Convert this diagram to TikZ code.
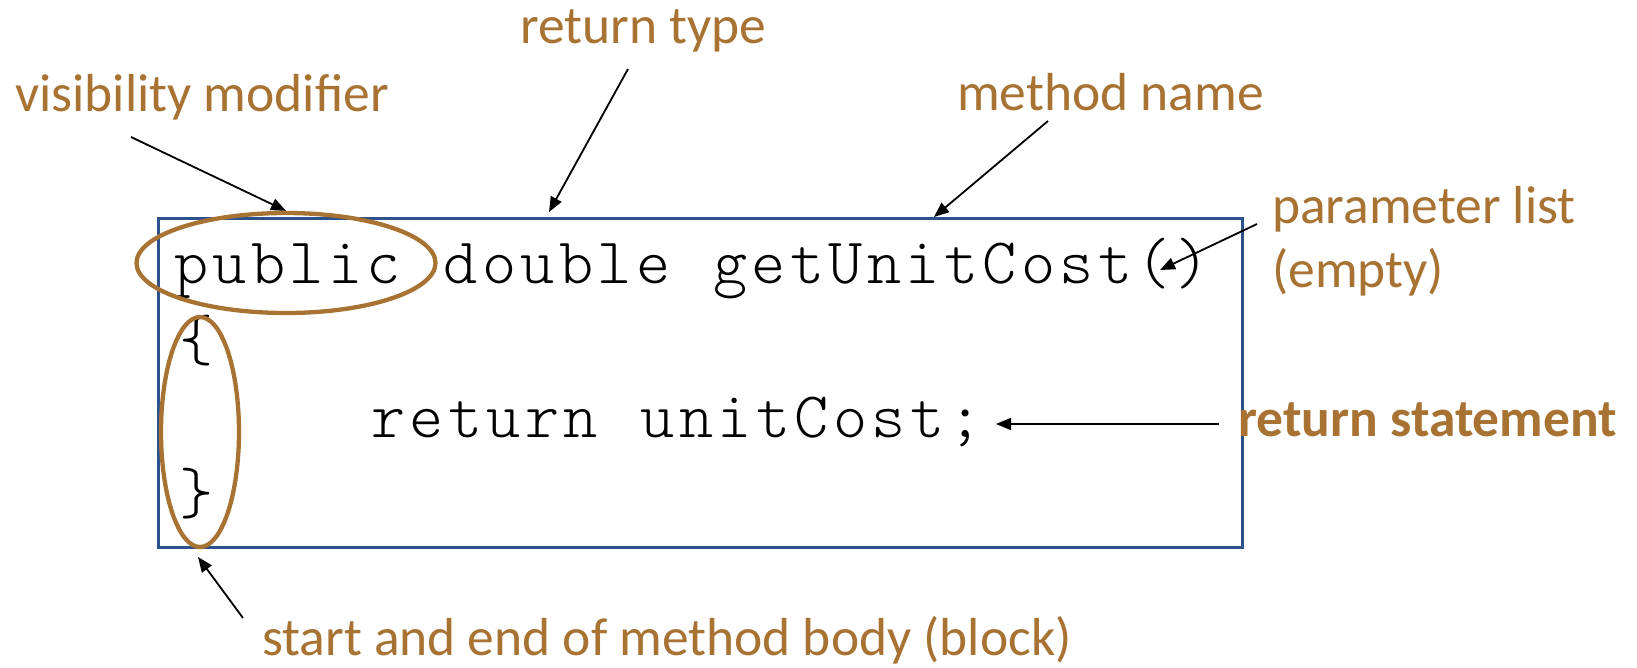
\documentclass[tikz,border=0pt]{standalone}
\usepackage{fontspec}
\setmainfont{Carlito}
\newfontfamily\codefont{lmmonolt10-regular.otf}
\usetikzlibrary{arrows.meta,shapes.geometric}
\definecolor{lblbrown}{RGB}{167,114,50}
\definecolor{boxblue}{RGB}{44,82,140}
% fixed-pitch cells, as in the reference
\newcommand\mchar[1]{\makebox[38.5pt][c]{#1}}
\def\mwordend{\mwordend}
\def\mword#1{\mwordi#1\mwordend}
\def\mwordi#1{\ifx#1\mwordend\else\mchar{#1}\expandafter\mwordi\fi}
\tikzset{
  lbl/.style={inner sep=0pt, anchor=base west, text=lblbrown, font=\fontsize{53.5}{60}\selectfont},
  codetxt/.style={inner sep=0pt, anchor=base west, font=\codefont\fontsize{65}{72}\selectfont},
  ring/.style={ellipse, draw=lblbrown, line width=4.3pt, inner sep=0pt},
  pointer/.style={draw=black, line width=1.8pt, -{Triangle[length=15pt,width=12pt]}},
}
\begin{document}
\begin{tikzpicture}[x=1pt,y=-1pt]
\useasboundingbox[fill=white] (0,0) rectangle (1637,667);
% code box
\node[draw=boxblue, line width=3pt, minimum width=1084pt, minimum height=329pt, inner sep=0pt] (box) at (700,382.5) {};
% code
\node[codetxt] (l1) at (172,283) {\mword{public}\mchar{}\mword{double}\mchar{}\mword{getUnitCost()}};
\node[codetxt] (ob) at (177,360) {\mchar{\{}};
\node[codetxt] (l3) at (369,437) {\mword{return}\mchar{}\mword{unitCost;}};
\node[codetxt] (cb) at (177,513) {\mchar{\}}};
% rings
\node[ring, minimum width=299pt, minimum height=100pt] (ell1) at (286,263) {};
\node[ring, minimum width=78pt, minimum height=230pt] (ell2) at (200,432) {};
% labels
\node[lbl] (vis) at (15,111) {visibility modifier};
\node[lbl] (rtype) at (520,43) {return type};
\node[lbl] (mname) at (957,110) {method name};
\node[lbl] (plist) at (1272,223) {parameter list};
\node[lbl] (pempty) at (1272,287) {(empty)};
\node[lbl, font=\bfseries\fontsize{53.5}{60}\selectfont] (rstmt) at (1238,436) {return statement};
\node[lbl] (body) at (262,655) {start and end of method body (block)};
% arrow ends
\coordinate (visT) at (131,137);
\coordinate (rtT) at (628,69);
\coordinate (rtH) at (549,212);
\coordinate (mnT) at (1048,121);
\coordinate (mnH) at (934,217);
\coordinate (plT) at (1257,224);
\coordinate (plH) at (1160,270);
\coordinate (rsT) at (1219,424);
\coordinate (rsH) at (996,424);
\coordinate (bdT) at (243,618);
\coordinate (bdH) at (198,557);
% arrows
\draw[pointer] (visT) -- (ell1.north);
\draw[pointer] (rtT) -- (rtH);
\draw[pointer] (mnT) -- (mnH);
\draw[pointer] (plT) -- (plH);
\draw[pointer] (rsT) -- (rsH);
\draw[pointer] (bdT) -- (bdH);
\end{tikzpicture}
\end{document}
